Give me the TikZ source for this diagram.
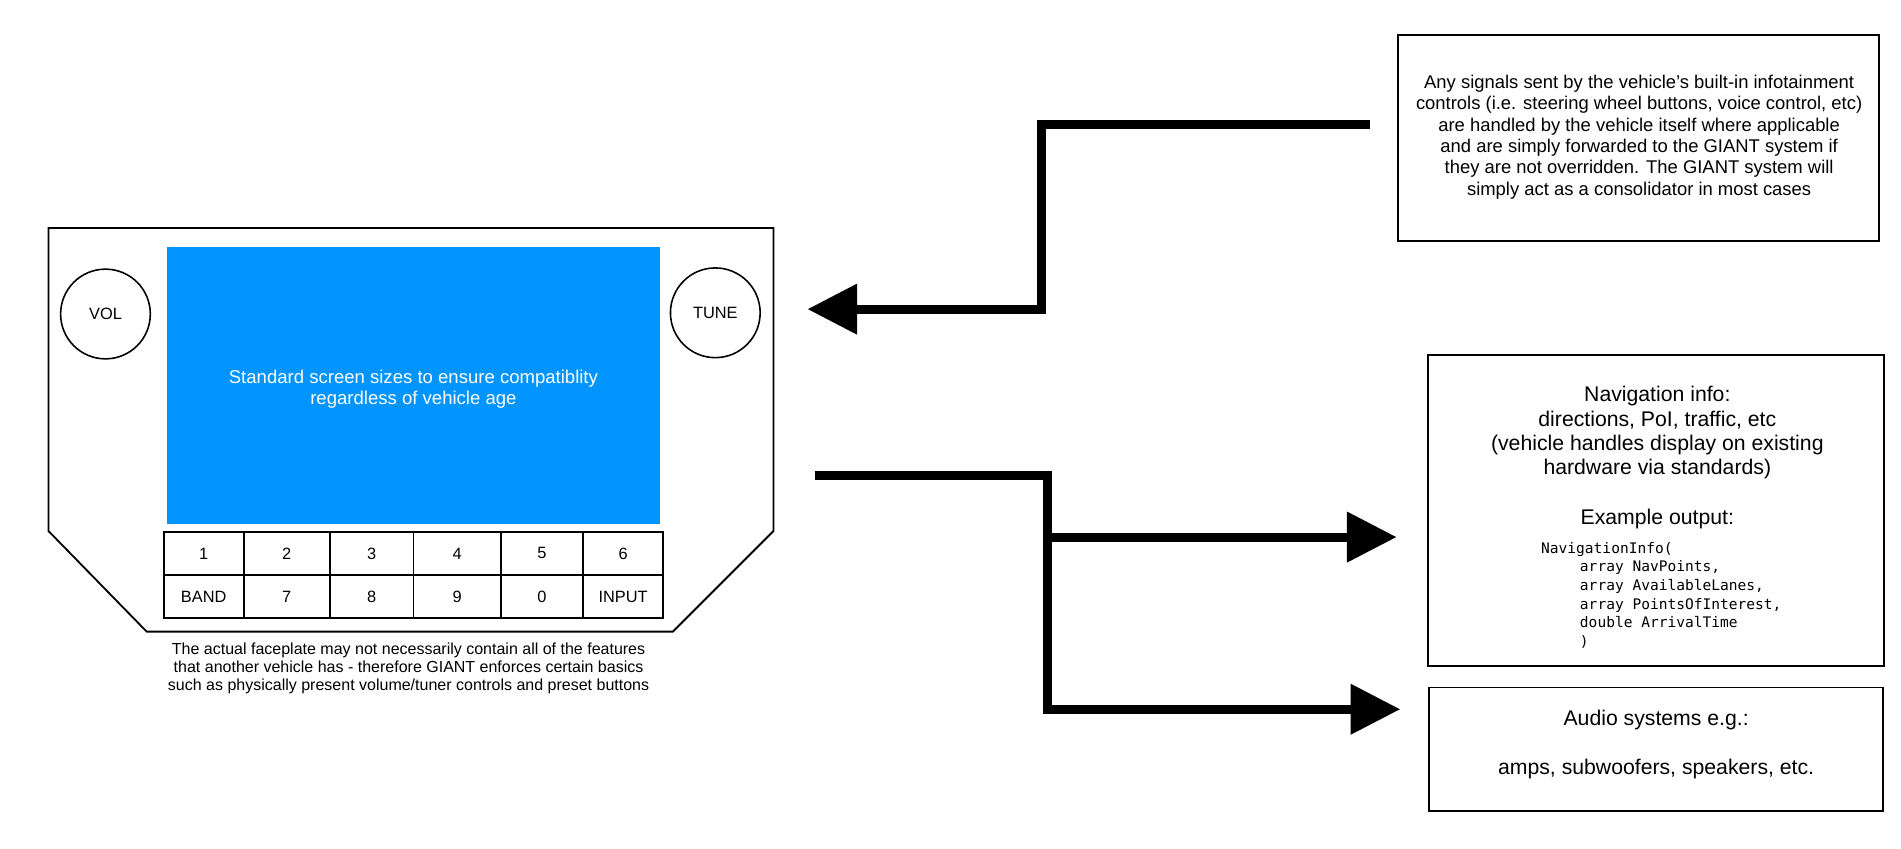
\documentclass[tikz,border=0pt]{standalone}
\usepackage{fontspec}
\setmainfont{Liberation Sans}
\newfontfamily\codefont{DejaVu Sans Mono}
\usetikzlibrary{arrows.meta}
\definecolor{screenblue}{RGB}{0,148,255}
\begin{document}
\begin{tikzpicture}[x=1pt,y=-1pt,
  box/.style={draw, line width=1.5pt, inner sep=0pt},
  knob/.style={draw, circle, line width=1.3pt, minimum size=74pt, inner sep=0pt, font=\fontsize{13.5}{16}\selectfont},
  btn/.style={draw, line width=1.5pt, inner sep=0pt, font=\fontsize{13.5}{16}\selectfont},
  fat/.style={line width=7.5pt, line join=miter, -{Triangle[length=41pt,width=40pt]}}]
\useasboundingbox (0,0) rectangle (1568,700);
\fill[white] (0,0) rectangle (1568,700);

% faceplate
\draw[line width=1.5pt, line join=miter] (40,188) -- (638,188) -- (638,438) -- (555,521) -- (121,521) -- (40,438) -- cycle;
\node[fill=screenblue, minimum width=406pt, minimum height=228pt, inner sep=0pt] (screen) at (341,318) {};
\node[text=white, align=center, font=\fontsize{15.3}{18}\selectfont] (screentext) at (341,321)
  {Standard screen sizes to ensure compatiblity\\regardless of vehicle age};
\node[knob] (vol) at (87,259) {VOL};
\node[knob] (tune) at (590,258) {TUNE};

% buttons
\node[btn, minimum width=66pt, minimum height=35pt] (b1) at (168,456.5) {1};
\node[btn, minimum width=71pt, minimum height=35pt] (b2) at (236.5,456.5) {2};
\node[btn, minimum width=69pt, minimum height=35pt] (b3) at (306.5,456.5) {3};
\node[btn, minimum width=72pt, minimum height=35pt] (b4) at (377,456.5) {4};
\node[btn, minimum width=68pt, minimum height=35pt] (b5) at (447,456.5) {5};
\node[btn, minimum width=66pt, minimum height=35pt] (b6) at (514,456.5) {6};
\node[btn, minimum width=66pt, minimum height=36pt] (band) at (168,492) {BAND};
\node[btn, minimum width=71pt, minimum height=36pt] (b7) at (236.5,492) {7};
\node[btn, minimum width=69pt, minimum height=36pt] (b8) at (306.5,492) {8};
\node[btn, minimum width=72pt, minimum height=36pt] (b9) at (377,492) {9};
\node[btn, minimum width=68pt, minimum height=36pt] (b0) at (447,492) {0};
\node[btn, minimum width=66pt, minimum height=36pt] (input) at (514,492) {INPUT};

\node[align=center, font=\fontsize{13.2}{15}\selectfont] (caption) at (337,551.5)
  {The actual faceplate may not necessarily contain all of the features\\
   that another vehicle has - therefore GIANT enforces certain basics\\
   such as physically present volume/tuner controls and preset buttons};

% right boxes
\node[box, minimum width=397pt, minimum height=170pt] (signals) at (1351.5,114) {};
\node[align=center, font=\fontsize{15.2}{17.6}\selectfont] (signalstext) at (1352,113)
  {Any signals sent by the vehicle's built-in infotainment\\
   controls (i.e. steering wheel buttons, voice control, etc)\\
   are handled by the vehicle itself where applicable\\
   and are simply forwarded to the GIANT system if\\
   they are not overridden. The GIANT system will\\
   simply act as a consolidator in most cases};

\node[box, minimum width=376pt, minimum height=256pt] (nav) at (1366,421) {};
\node[align=center, font=\fontsize{17.5}{20}\selectfont] (navtitle) at (1367,357)
  {Navigation info:\\directions, PoI, traffic, etc\\(vehicle handles display on existing\\hardware via standards)};
\node[font=\fontsize{17.5}{20}\selectfont] (example) at (1367,428) {Example output:};
\node[anchor=north west, align=left, inner sep=0pt, font=\codefont\fontsize{12}{15.4}\selectfont] (code) at (1271,447)
  {NavigationInfo(\\
   \hspace*{32pt}array NavPoints,\\
   \hspace*{32pt}array AvailableLanes,\\
   \hspace*{32pt}array PointsOfInterest,\\
   \hspace*{32pt}double ArrivalTime\\
   \hspace*{32pt})};

\node[box, minimum width=374pt, minimum height=102pt] (audio) at (1366,618) {};
\node[align=center, font=\fontsize{17.5}{20}\selectfont] (audiotext) at (1366,614)
  {Audio systems e.g.:\\[20pt]amps, subwoofers, speakers, etc.};

% connectors
\coordinate (a1s) at (1130,102.5);
\coordinate (a1k) at (859,255);
\coordinate (a1t) at (666,255);
\draw[fat] (a1s) -| (a1k) -- (a1t);

\coordinate (a2s) at (672,392);
\coordinate (a2j) at (864,443);
\coordinate (a2k) at (864,585);
\coordinate (a2t) at (1152,443);
\coordinate (a3t) at (1155,585);
\draw[fat] (a2s) -| (a2k) -- (a3t);
\draw[fat] (a2j) -- (a2t);
\end{tikzpicture}
\end{document}
